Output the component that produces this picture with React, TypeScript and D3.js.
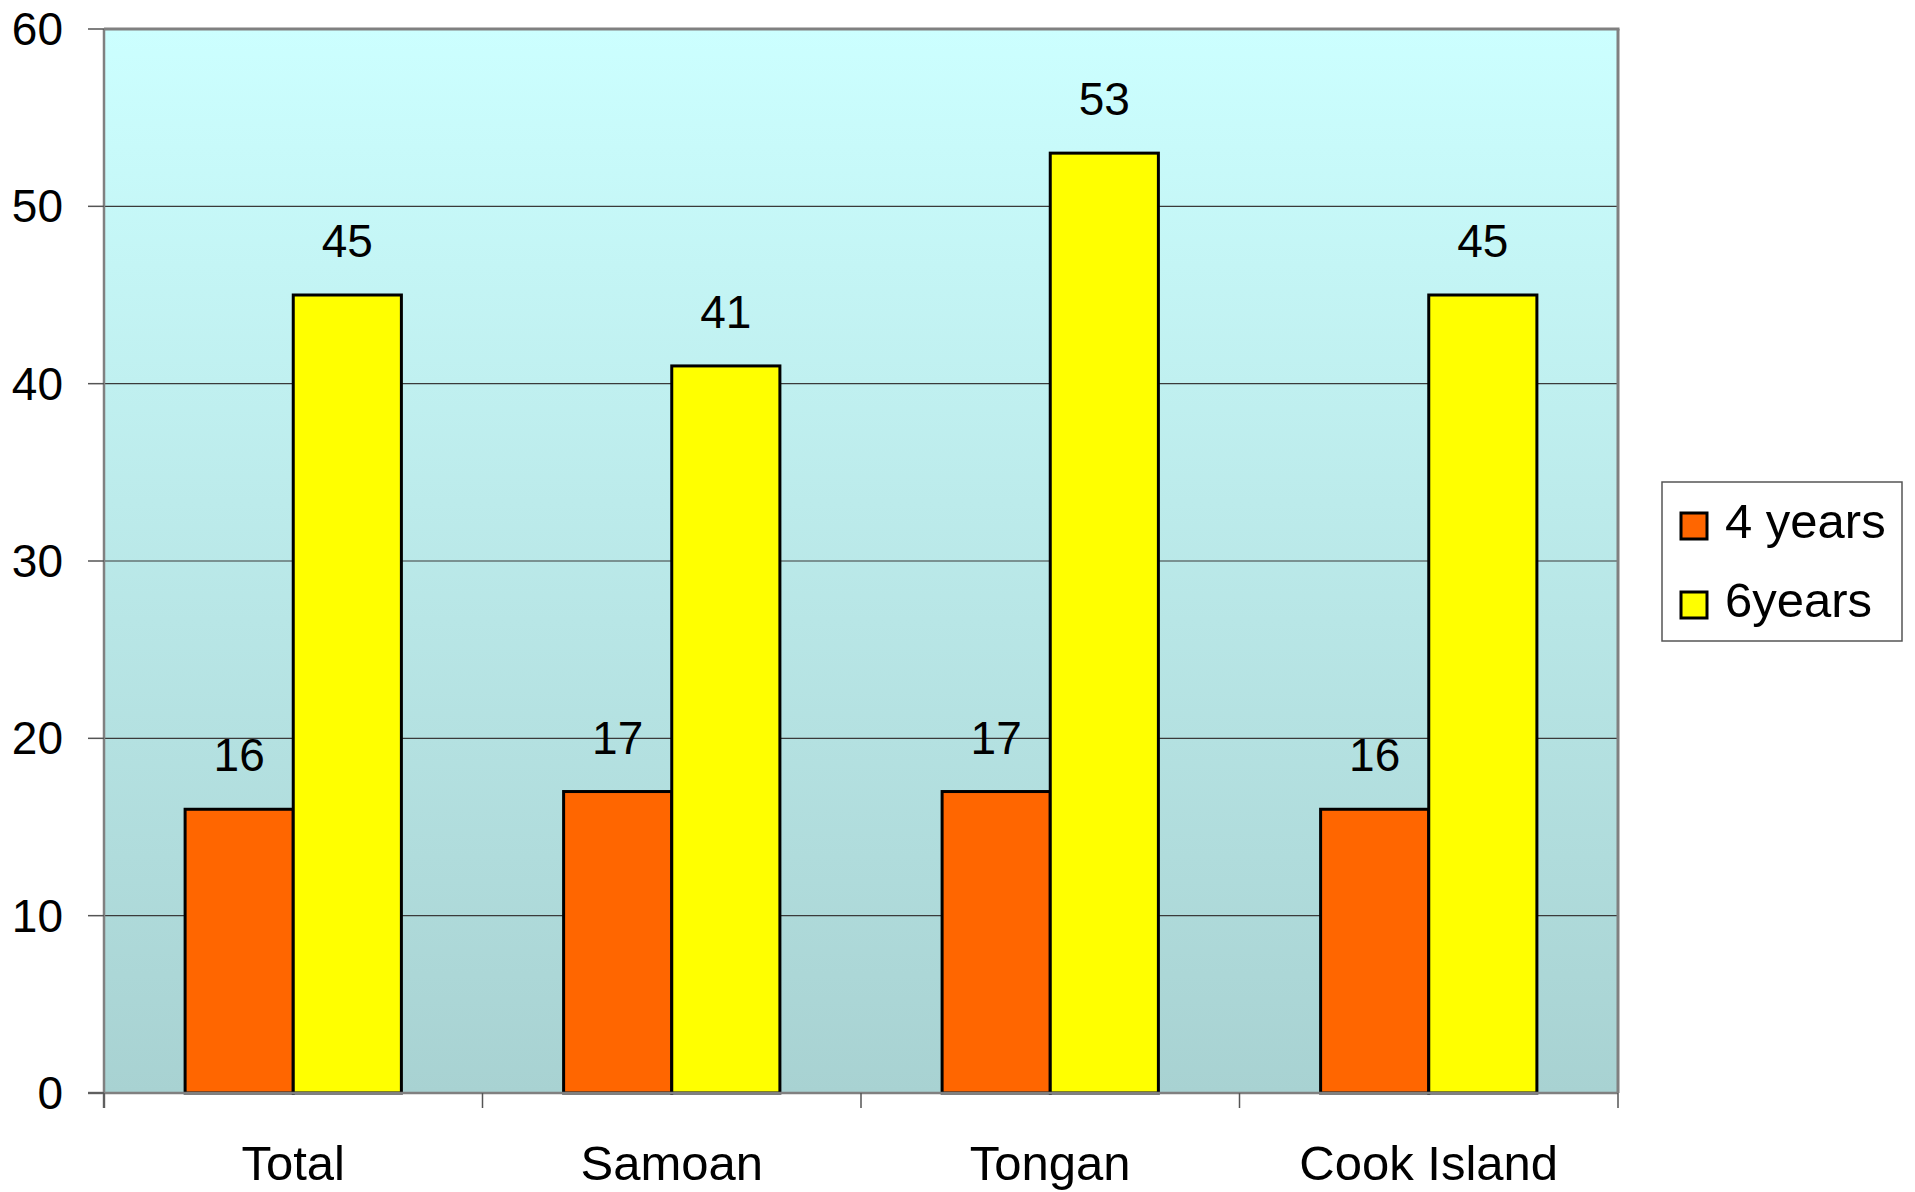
import React from "react";
import * as d3 from "d3";

const categories = ["Total", "Samoan", "Tongan", "Cook Island"];
const series = ["4 years", "6years"];
const values4 = [16, 17, 17, 16];
const values6 = [45, 41, 53, 45];
const yTicks = [0, 10, 20, 30, 40, 50, 60];
const colors = ["#FF6600", "#FFFF00"];

export default function App() {
  const W = 1915, H = 1192;
  const left = 104, right = 1618, top = 29, bottom = 1093;
  const font = "Arial, 'Liberation Sans', sans-serif";
  const fs = 46;
  const fsBig = 49;
  const x0 = d3.scaleBand().domain(categories).range([left, right]).paddingInner(0).paddingOuter(0);
  const bw = x0.bandwidth() / 3.5;
  const x1 = d3.scaleBand().domain(series).range([0, bw * 2]);
  const y = d3.scaleLinear().domain([0, 60]).range([bottom, top]);
  const data = [values4, values6];

  return (
    <div style={{ position: "absolute", left: 0, top: 0 }}>
      <svg width={W} height={H} style={{ display: "block" }}>
        <defs>
          <linearGradient id="bg" x1="0" y1="0" x2="0" y2="1">
            <stop offset="0" stopColor="#CCFFFF" />
            <stop offset="1" stopColor="#A8D2D2" />
          </linearGradient>
        </defs>
        <rect x={0} y={0} width={W} height={H} fill="#fff" />
        <rect x={left} y={top} width={right - left} height={bottom - top} fill="url(#bg)" />
        {yTicks.filter(t => t > 0 && t < 60).map(t => (
          <line key={t} x1={left} x2={right} y1={y(t)} y2={y(t)} stroke="#3a3a3a" strokeWidth={1.2} />
        ))}
        <line x1={left} x2={right + 1.5} y1={top} y2={top} stroke="#808080" strokeWidth={3} />
        <line x1={right} x2={right} y1={top} y2={bottom} stroke="#808080" strokeWidth={3} />
        {categories.map((c, i) =>
          data.map((vals, s) => {
            const xs = (x0(c) as number) + (x0.bandwidth() - bw * 2) / 2 + (x1(series[s]) as number);
            return (
              <g key={c + s}>
                <rect x={xs} y={y(vals[i])} width={bw} height={bottom - y(vals[i])}
                  fill={colors[s]} stroke="#000" strokeWidth={3} />
                <text x={xs + bw / 2} y={y(vals[i]) - 38} textAnchor="middle" fontFamily={font} fontSize={fs} fill="#000">
                  {vals[i]}
                </text>
              </g>
            );
          })
        )}
        <line x1={left} x2={left} y1={top} y2={bottom + 15} stroke="#808080" strokeWidth={2.5} />
        <line x1={left - 16} x2={right} y1={bottom} y2={bottom} stroke="#808080" strokeWidth={2.5} />
        {yTicks.map(t => (
          <g key={t}>
            <line x1={left - 16} x2={left} y1={y(t)} y2={y(t)} stroke="#555" strokeWidth={1.5} />
            <text x={63} y={y(t) + 16} textAnchor="end" fontFamily={font} fontSize={fs} fill="#000">{t}</text>
          </g>
        ))}
        {[...categories.map(c => x0(c) as number), right].map((xv, i) => (
          <line key={i} x1={xv} x2={xv} y1={bottom} y2={bottom + 15} stroke="#555" strokeWidth={1.5} />
        ))}
        {categories.map(c => (
          <text key={c} x={(x0(c) as number) + x0.bandwidth() / 2} y={1180} textAnchor="middle" fontFamily={font} fontSize={fsBig} fill="#000">{c}</text>
        ))}
        <rect x={1662} y={482} width={240} height={159} fill="#fff" stroke="#555" strokeWidth={1.5} />
        {series.map((s, i) => (
          <g key={s}>
            <rect x={1681} y={513 + i * 79} width={26} height={26} fill={colors[i]} stroke="#000" strokeWidth={3} />
            <text x={1725} y={538 + i * 79} fontFamily={font} fontSize={fsBig} fill="#000">{s}</text>
          </g>
        ))}
      </svg>
    </div>
  );
}
